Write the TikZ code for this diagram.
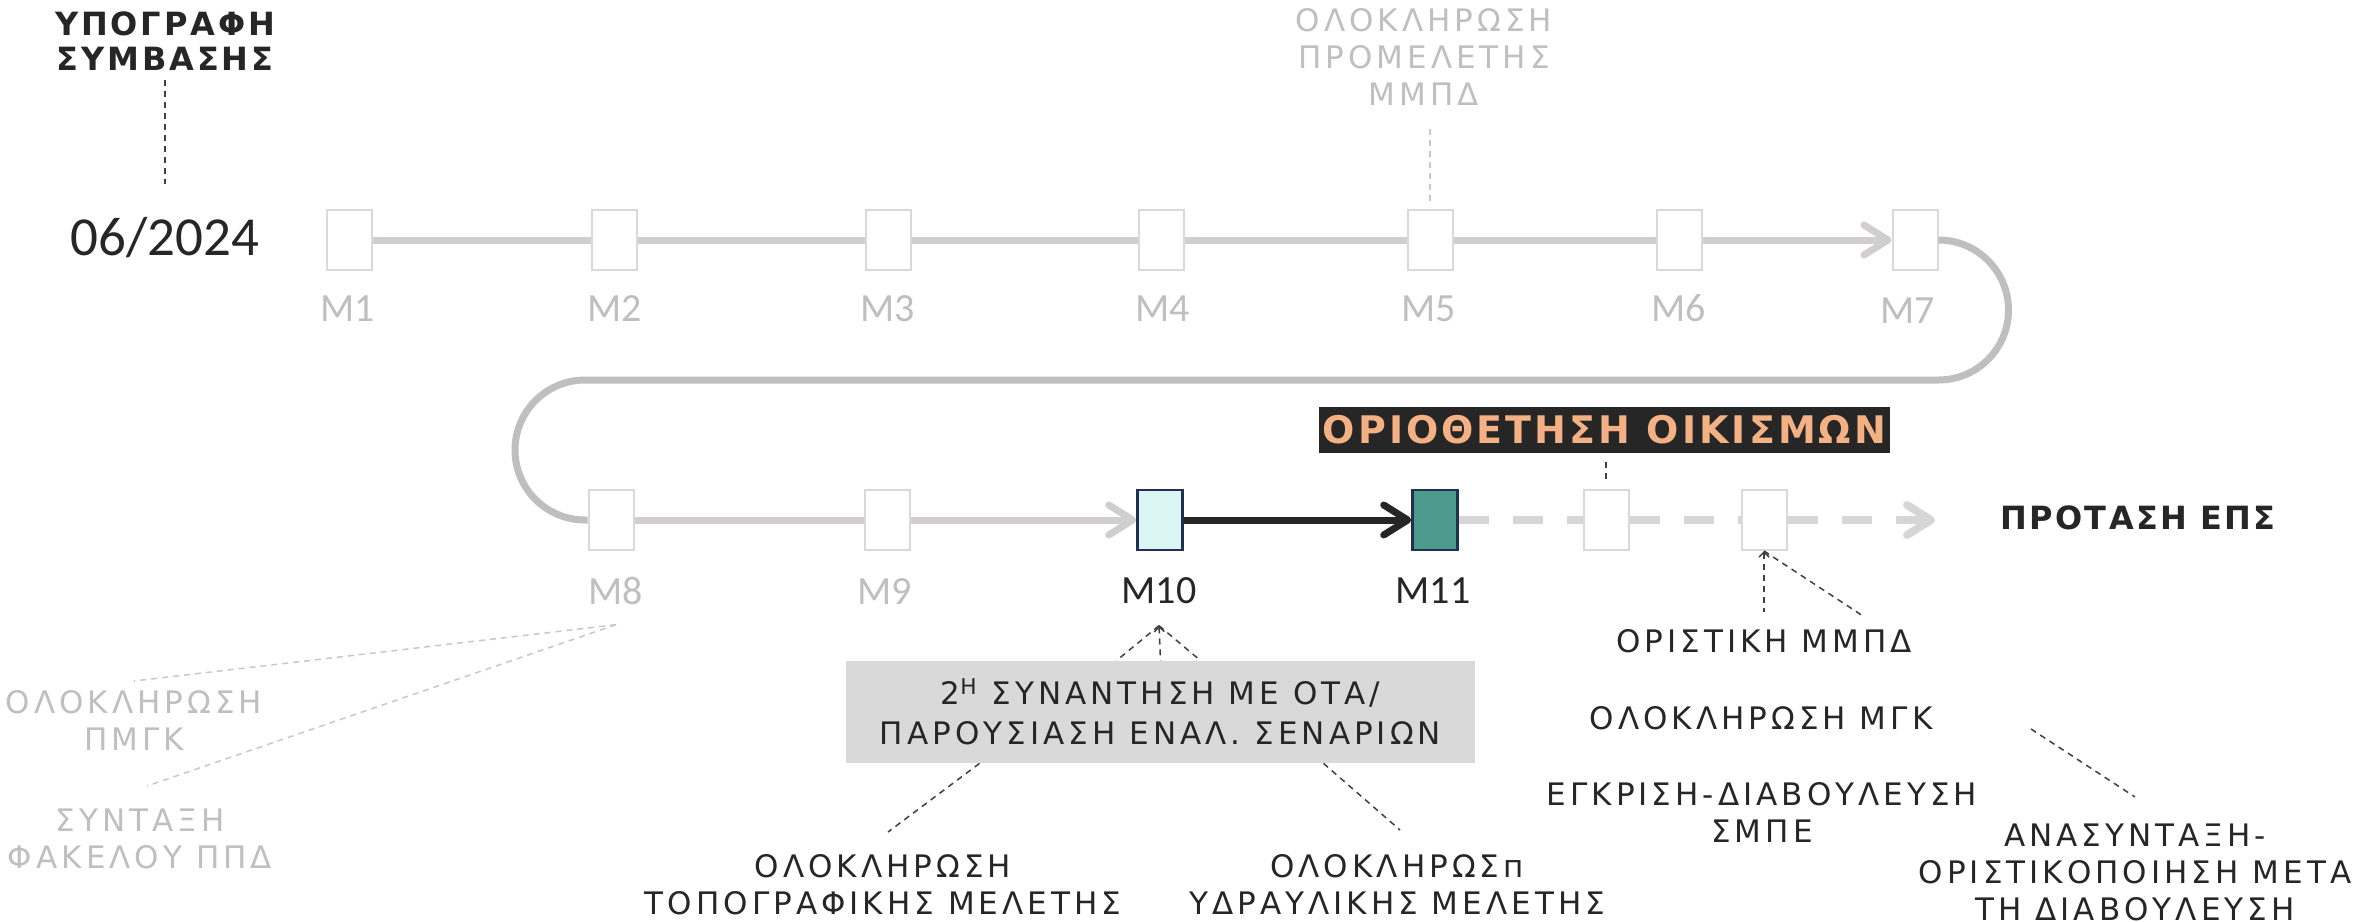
\documentclass[tikz,border=0pt]{standalone}
\usepackage{fontspec}
\usetikzlibrary{arrows.meta}
\setmainfont{DejaVu Sans}
\newfontfamily\lightfont{DejaVu Sans}[LetterSpace=13]
\newfontfamily\tbold{DejaVu Sans}[LetterSpace=9]
\newfontfamily\tboldb{DejaVu Sans}[LetterSpace=7]
\newfontfamily\tboldc{DejaVu Sans}[LetterSpace=8]
\newfontfamily\calfont{Carlito}
\definecolor{dark}{HTML}{262626}
\definecolor{labgray}{HTML}{BFBFBF}
\definecolor{roadgray}{HTML}{D0CECE}
\definecolor{loopgray}{HTML}{BFBFBF}
\definecolor{boxgray}{HTML}{D9D9D9}
\definecolor{dashgray}{HTML}{D6D6D6}
\definecolor{mtenfill}{HTML}{DAF5F3}
\definecolor{melevfill}{HTML}{4B9A8B}
\definecolor{navy}{HTML}{1F3050}
\definecolor{orangetxt}{HTML}{F4B183}
\definecolor{meetfill}{HTML}{D9D9D9}
\definecolor{dkdash}{HTML}{404040}
\definecolor{ltdash}{HTML}{C8C8C8}
\begin{document}
\begin{tikzpicture}[x=0.5pt,y=-0.5pt,
  ms/.style={draw=boxgray, line width=1pt, fill=white, minimum width=22.5pt, minimum height=30pt, inner sep=0pt},
  mact/.style={ms, draw=navy, line width=1.3pt},
  mlab/.style={font=\calfont\fontsize{20}{24}\selectfont, text=labgray, inner sep=0pt, anchor=base},
  ltxt/.style={font=\lightfont\fontsize{15.5}{18.5}\selectfont, align=center, inner sep=0pt, anchor=north, text=dark},
  gtxt/.style={ltxt, text=labgray},
  road/.style={line width=3.5pt, draw=roadgray},
  loopline/.style={line width=3.5pt, draw=loopgray},
  blackroad/.style={line width=3.5pt, draw=dark},
  dashroad/.style={line width=4pt, draw=dashgray, dash pattern=on 15pt off 12pt},
  chev/.style={-{Straight Barb[length=12pt,width=15pt,round]}},
  thinl/.style={draw=dkdash, line width=0.75pt, dash pattern=on 3pt off 2.5pt},
  thing/.style={thinl, draw=ltdash},
  smalltip/.style={{Straight Barb[length=2.5pt,width=5pt]}-}
]
\path[use as bounding box, fill=white] (0,0) rectangle (2376,921);

% titles
\node[font=\tbold\bfseries\fontsize{16}{17.5}\selectfont, text=dark, align=center, inner sep=0pt, anchor=north] (sign) at (165,11) {ΥΠΟΓΡΑΦΗ\\ΣΥΜΒΑΣΗΣ};
\node[font=\calfont\fontsize{27.5}{30}\selectfont, text=dark, inner sep=0pt, anchor=base] (date) at (165,255) {06/2024};

% milestones row 1
\node[ms] (m1) at (349,240) {};
\node[ms] (m2) at (614,240) {};
\node[ms] (m3) at (888,240) {};
\node[ms] (m4) at (1161,240) {};
\node[ms] (m5) at (1430,240) {};
\node[ms] (m6) at (1679,240) {};
\node[ms] (m7) at (1915,240) {};
% row 2
\node[ms] (m8) at (611,520) {};
\node[ms] (m9) at (887,520) {};
\node[mact, fill=mtenfill] (m10) at (1160,520) {};
\node[mact, fill=melevfill] (m11) at (1435,520) {};
\node[ms] (m12) at (1606,520) {};
\node[ms] (m13) at (1764,520) {};
\coordinate (pend) at (1935,520);

% milestone labels
\node[mlab] (l1) at (348,321) {M1};
\node[mlab] (l2) at (615,321) {M2};
\node[mlab] (l3) at (888,321) {M3};
\node[mlab] (l4) at (1163,321) {M4};
\node[mlab] (l5) at (1429,321) {M5};
\node[mlab] (l6) at (1679,321) {M6};
\node[mlab] (l7) at (1908,323) {M7};
\node[mlab] (l8) at (616,604) {M8};
\node[mlab] (l9) at (885,604) {M9};
\node[mlab, text=dark] (l10) at (1159,603) {M10};
\node[mlab, text=dark] (l11) at (1433,603) {M11};

% road connectors
\draw[road] (m1.east) -- (m2.west);
\draw[road] (m2.east) -- (m3.west);
\draw[road] (m3.east) -- (m4.west);
\draw[road] (m4.east) -- (m5.west);
\draw[road] (m5.east) -- (m6.west);
\draw[road, chev] (m6.east) -- (m7.west);
\draw[loopline] (m7.east) arc[start angle=-90, end angle=90, radius=70] -- (585,380) arc[start angle=270, end angle=90, radius=70] -- (m8.west);
\draw[road] (m8.east) -- (m9.west);
\draw[road, chev] (m9.east) -- (m10.west);
\draw[blackroad, chev] (m10.east) -- (m11.west);
\draw[dashroad] (m11.east) -- (m12.west);
\draw[dashroad] (m12.east) -- (m13.west);
\draw[dashroad, chev] (m13.east) -- (pend);

% labels
\node[font=\tboldb\bfseries\fontsize{16}{18}\selectfont, text=dark, inner sep=0pt] (prot) at (2138,518) {ΠΡΟΤΑΣΗ ΕΠΣ};
\node[fill=dark, text=orangetxt, minimum width=285.5pt, minimum height=23pt, inner sep=0pt, font=\tboldc\bfseries\fontsize{19}{22}\selectfont] (oriot) at (1604.5,430) {ΟΡΙΟΘΕΤΗΣΗ ΟΙΚΙΣΜΩΝ};

\node[gtxt] (prom) at (1424,8) {ΟΛΟΚΛΗΡΩΣΗ\\ΠΡΟΜΕΛΕΤΗΣ\\ΜΜΠΔ};
\node[gtxt] (pmgk) at (134,690) {ΟΛΟΚΛΗΡΩΣΗ\\ΠΜΓΚ};
\node[gtxt] (fak) at (140,808) {ΣΥΝΤΑΞΗ\\ΦΑΚΕΛΟΥ ΠΠΔ};

\node[fill=meetfill, minimum width=314.5pt, minimum height=51pt, inner sep=0pt, align=center, text=dark, font=\lightfont\fontsize{15.5}{20}\selectfont] (meet) at (1160.5,712) {2\textsuperscript{Η} ΣΥΝΑΝΤΗΣΗ ΜΕ ΟΤΑ/\\ΠΑΡΟΥΣΙΑΣΗ ΕΝΑΛ. ΣΕΝΑΡΙΩΝ};

\node[ltxt] (topo) at (883,854) {ΟΛΟΚΛΗΡΩΣΗ\\ΤΟΠΟΓΡΑΦΙΚΗΣ ΜΕΛΕΤΗΣ};
\node[ltxt] (ydr) at (1397,854) {ΟΛΟΚΛΗΡΩΣп\\ΥΔΡΑΥΛΙΚΗΣ ΜΕΛΕΤΗΣ};
\node[ltxt] (orist) at (1764,629) {ΟΡΙΣΤΙΚΗ ΜΜΠΔ};
\node[ltxt] (mgk) at (1761,706) {ΟΛΟΚΛΗΡΩΣΗ ΜΓΚ};
\node[ltxt] (smpe) at (1762,782) {ΕΓΚΡΙΣΗ-ΔΙΑΒΟΥΛΕΥΣΗ\\ΣΜΠΕ};
\node[ltxt] (anas) at (2135,823) {ΑΝΑΣΥΝΤΑΞΗ-\\ΟΡΙΣΤΙΚΟΠΟΙΗΣΗ ΜΕΤΑ\\ΤΗ ΔΙΑΒΟΥΛΕΥΣΗ};
\coordinate (free1) at (2031,729);

% dashed leaders
\draw[thinl, shorten <=4.5pt, shorten >=16pt] (sign.south) -- (sign.south |- date.north);
\draw[thing, shorten <=4pt, shorten >=10pt] (m5.north) -- (m5.north |- prom.south);
\draw[thinl, shorten <=4.5pt, shorten >=3.5pt] (m12.north |- oriot.south) -- (m12.north);
\draw[thing] ([yshift=-10pt]l8.south) -- ([yshift=4.5pt]pmgk.north);
\draw[thing] ([yshift=-10pt]l8.south) -- ([xshift=3.5pt,yshift=11pt]fak.north);
\draw[thinl, smalltip] ([yshift=-11pt]l10.south) -- (meet.north);
\draw[thinl] ([yshift=-11pt]l10.south) -- ([xshift=-22pt]meet.north);
\draw[thinl] ([yshift=-11pt]l10.south) -- ([xshift=20pt]meet.north);
\draw[thinl] ([xshift=-90.5pt]meet.south) -- ([xshift=2.5pt,yshift=11pt]topo.north);
\draw[thinl] ([xshift=81.5pt]meet.south) -- ([xshift=1.5pt,yshift=12pt]ydr.north);
\draw[thinl, smalltip] (m13.south) -- ([yshift=8.5pt]orist.north);
\draw[thinl] (m13.south) -- ([xshift=49.5pt,yshift=6.5pt]orist.north);
\draw[thinl] (free1) -- ([yshift=13pt]anas.north);
\end{tikzpicture}
\end{document}
